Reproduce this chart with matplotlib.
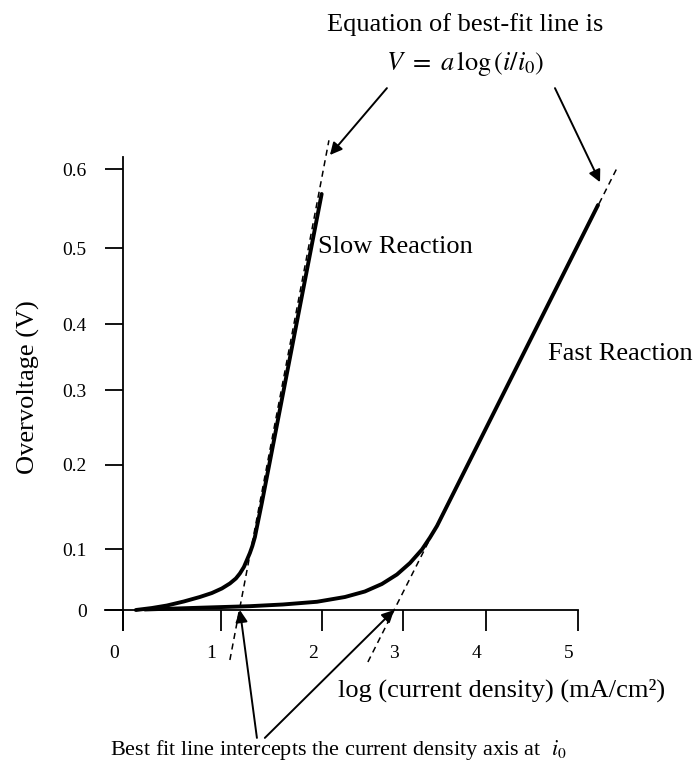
import matplotlib
matplotlib.use('Agg')
import matplotlib.pyplot as plt
import matplotlib.transforms as mtransforms

plt.rcParams['font.family'] = ['Liberation Serif', 'DejaVu Serif']
plt.rcParams['mathtext.fontset'] = 'stix'

# %% schematic data (drawing units: x = log current density, y = overvoltage)
slow_x = [0.143, 0.319, 0.484, 0.670, 0.846, 0.978, 1.088, 1.176, 1.242, 1.286,
          1.330, 1.363, 1.396, 1.423, 1.451, 1.473, 1.527, 2.184]
slow_y = [0.0, 0.0027, 0.0061, 0.0116, 0.0177, 0.0231, 0.0293, 0.0361, 0.0429, 0.0497,
          0.0585, 0.0680, 0.0776, 0.0871, 0.0993, 0.1129, 0.1456, 0.566]

fast_x = [0.242, 0.846, 1.396, 1.758, 2.132, 2.440, 2.659, 2.846, 3.011, 3.154,
          3.286, 3.374, 3.451, 5.220]
fast_y = [0.0007, 0.0031, 0.0052, 0.0075, 0.0112, 0.0177, 0.0252, 0.0354, 0.0483, 0.0639,
          0.0823, 0.0986, 0.1143, 0.551]

# best-fit (Tafel) lines
slow_fit_x = [1.176, 2.264]
slow_fit_y = [-0.068, 0.639]
fast_fit_x = [2.692, 5.429]
fast_fit_y = [-0.0707, 0.6014]
slow_i0 = 1.286
fast_i0 = 2.980

x_tick_pos = [0, 1.074, 2.184, 3.077, 3.986, 5.0]
x_tick_labels = ['0', '1', '2', '3', '4', '5']
y_tick_pos = [0, 0.0826, 0.1973, 0.2993, 0.3887, 0.4921, 0.5996]
y_tick_labels = ['0', '0.1', '0.2', '0.3', '0.4', '0.5', '0.6']

# %%
W, H = 694, 766
fig = plt.figure(figsize=(W / 100, H / 100), dpi=100)
ax = fig.add_axes([104.8 / W, 136 / H, (578 - 104.8) / W, (630 - 157) / H])
ax.set_xlim(-0.198, 5.0)
ax.set_ylim(-0.0272, 0.6163)

for s in ['top', 'right']:
    ax.spines[s].set_visible(False)
ax.spines['left'].set_position(('data', 0))
ax.spines['bottom'].set_position(('data', 0))
for s in ['left', 'bottom']:
    ax.spines[s].set_linewidth(1.3)

ax.set_xticks(x_tick_pos)
ax.set_xticklabels(x_tick_labels)
ax.set_yticks(y_tick_pos)
ax.set_yticklabels(y_tick_labels)
ax.tick_params(axis='x', direction='out', length=15, width=1.3, pad=10, labelsize=14)
ax.tick_params(axis='y', direction='out', length=13, width=1.3, pad=13, labelsize=14)
shift = mtransforms.ScaledTranslation(-9 / 100, 0, fig.dpi_scale_trans)
for lab in ax.get_xticklabels():
    lab.set_transform(lab.get_transform() + shift)

ax.plot(slow_fit_x, slow_fit_y, color='black', lw=1.1, dashes=(4, 3), clip_on=False)
ax.plot(fast_fit_x, fast_fit_y, color='black', lw=1.1, dashes=(4, 3), clip_on=False)
ax.plot(slow_x, slow_y, color='black', lw=2.8, clip_on=False,
        solid_capstyle='round', solid_joinstyle='round')
ax.plot(fast_x, fast_y, color='black', lw=2.8, clip_on=False,
        solid_capstyle='round', solid_joinstyle='round')

arrow = dict(arrowstyle='-|>', color='black', lw=1.4, mutation_scale=18, shrinkA=0, shrinkB=0)
ax.annotate('', xy=(2.275, 0.619), xytext=(2.901, 0.710), arrowprops=arrow, annotation_clip=False)
ax.annotate('', xy=(5.242, 0.582), xytext=(4.747, 0.710), arrowprops=arrow, annotation_clip=False)
ax.annotate('', xy=(slow_i0, 0), xytext=(1.473, -0.174), arrowprops=arrow, annotation_clip=False)
ax.annotate('', xy=(fast_i0, 0), xytext=(1.560, -0.174), arrowprops=arrow, annotation_clip=False)


def fpos(x, y):
    return x / W, 1 - y / H


fig.text(*fpos(465, 25), 'Equation of best-fit line is', fontsize=19, ha='center', va='center')
fig.text(*fpos(465, 64), r'$V\ =\ a\,\log\left(i/i_0\right)$', fontsize=19, ha='center', va='center')
fig.text(*fpos(318, 247), 'Slow Reaction', fontsize=19, ha='left', va='center')
fig.text(*fpos(548, 354), 'Fast Reaction', fontsize=19, ha='left', va='center')
fig.text(*fpos(28, 387), 'Overvoltage (V)', fontsize=19, rotation=90, ha='center', va='center')
fig.text(*fpos(338, 690), 'log (current density) (mA/cm²)', fontsize=19, ha='left', va='center')
fig.text(*fpos(110, 750), r'Best fit line intercepts the current density axis at  $i_0$',
         fontsize=16, ha='left', va='center')

fig.savefig('out.png', dpi=100)
